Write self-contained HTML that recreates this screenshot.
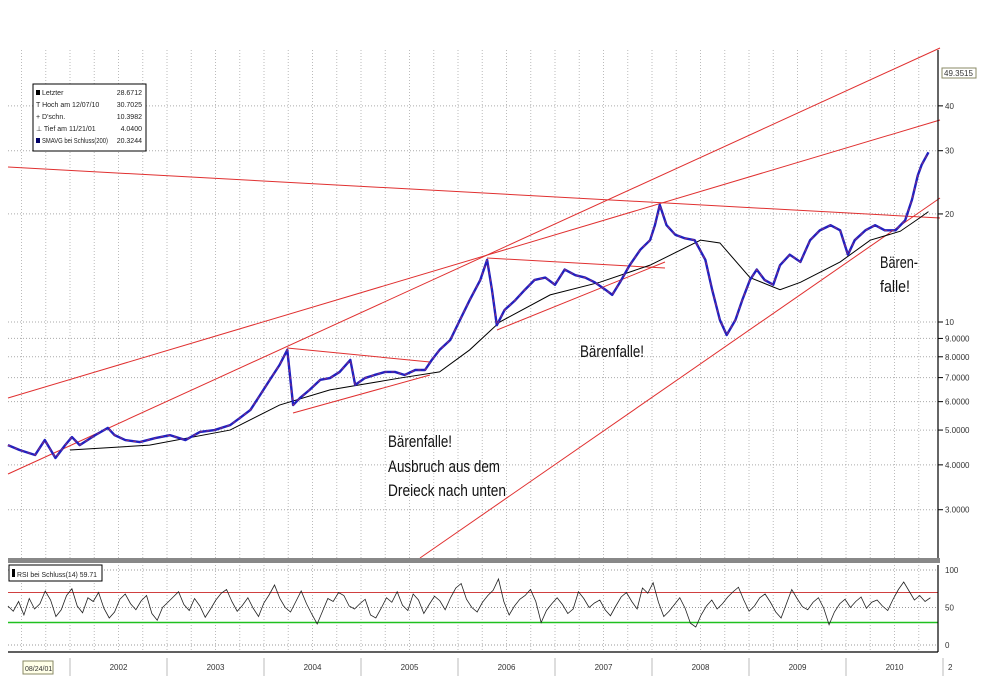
<!DOCTYPE html>
<html><head><meta charset="utf-8"><style>
body{margin:0;background:#fff;}
svg text{font-family:"Liberation Sans Narrow","Liberation Sans",sans-serif;}
</style></head><body>
<svg id="chart" width="999" height="693" viewBox="0 0 999 693" xmlns="http://www.w3.org/2000/svg">
<rect width="999" height="693" fill="#fff"/>
<g id="grid"></g>
<g id="trend"></g>
<g id="series"></g>
<g id="axes"></g>
<g font-size="7" fill="#222">
<rect x="33" y="84" width="113" height="67" fill="#fff" stroke="#000"/>
<rect x="36" y="90" width="4" height="5" fill="#000"/><text x="42" y="95">Letzter</text><text x="142" y="95" text-anchor="end">28.6712</text>
<text x="36" y="107">T Hoch am 12/07/10</text><text x="142" y="107" text-anchor="end">30.7025</text>
<text x="36" y="119">+ D'schn.</text><text x="142" y="119" text-anchor="end">10.3982</text>
<text x="36" y="131">⊥ Tief am 11/21/01</text><text x="142" y="131" text-anchor="end">4.0400</text>
<rect x="36" y="138" width="4" height="5" fill="#000066"/><text x="42" y="143" textLength="66" lengthAdjust="spacingAndGlyphs">SMAVG bei Schluss(200)</text><text x="142" y="143" text-anchor="end">20.3244</text>
</g>
<g font-size="17" fill="#111">
<text x="580" y="357" textLength="64" lengthAdjust="spacingAndGlyphs">Bärenfalle!</text>
<text x="388" y="447" textLength="64" lengthAdjust="spacingAndGlyphs">Bärenfalle!</text>
<text x="388" y="472" textLength="112" lengthAdjust="spacingAndGlyphs">Ausbruch aus dem</text>
<text x="388" y="496" textLength="118" lengthAdjust="spacingAndGlyphs">Dreieck nach unten</text>
<text x="880" y="268" textLength="38" lengthAdjust="spacingAndGlyphs">Bären-</text>
<text x="880" y="292" textLength="30" lengthAdjust="spacingAndGlyphs">falle!</text>
</g>
<g font-size="7" fill="#222">
<rect x="9" y="565" width="93" height="16" fill="#fff" stroke="#000"/>
<rect x="12" y="569" width="3" height="8" fill="#000"/><text x="17" y="577" textLength="80" lengthAdjust="spacingAndGlyphs">RSI bei Schluss(14) 59.71</text>
</g>
</svg>
<script>
const priceYears=[2001.36,2001.48,2001.64,2001.74,2001.85,2001.95,2002.02,2002.10,2002.26,2002.39,2002.46,2002.57,2002.72,2002.88,2003.03,2003.19,2003.34,2003.49,2003.65,2003.75,2003.86,2003.96,2004.06,2004.16,2004.24,2004.30,2004.37,2004.47,2004.58,2004.68,2004.78,2004.89,2004.94,2005.04,2005.14,2005.25,2005.35,2005.45,2005.56,2005.66,2005.73,2005.81,2005.92,2006.02,2006.12,2006.23,2006.30,2006.35,2006.40,2006.48,2006.59,2006.69,2006.79,2006.90,2007.00,2007.10,2007.21,2007.31,2007.41,2007.52,2007.59,2007.67,2007.77,2007.88,2007.98,2008.03,2008.08,2008.15,2008.24,2008.34,2008.44,2008.55,2008.62,2008.70,2008.77,2008.86,2008.93,2009.01,2009.08,2009.16,2009.25,2009.32,2009.42,2009.53,2009.63,2009.73,2009.84,2009.94,2010.02,2010.09,2010.20,2010.30,2010.40,2010.51,2010.61,2010.68,2010.74,2010.78,2010.85];
const priceValues=[4.54,4.40,4.26,4.69,4.18,4.54,4.78,4.54,4.84,5.07,4.84,4.69,4.63,4.75,4.84,4.69,4.94,5.00,5.16,5.40,5.69,6.26,6.90,7.59,8.36,5.87,6.14,6.47,6.90,6.98,7.26,7.84,6.68,6.98,7.12,7.26,7.26,7.12,7.35,7.35,7.84,8.36,8.91,10.13,11.5,13.1,14.9,12.3,9.8,10.8,11.5,12.3,13.1,13.3,12.7,14.0,13.5,13.3,12.9,12.3,11.9,12.9,14.4,15.9,16.9,18.6,21.2,18.6,17.5,17.1,16.9,14.9,12.3,10.13,9.2,10.13,11.5,13.1,14.0,13.1,12.7,14.4,15.4,14.7,16.9,18.0,18.6,18.0,15.4,16.9,18.0,18.6,18.0,18.0,19.2,21.9,25.6,27.4,29.7];
const smaYears=[2002.0,2002.82,2003.65,2004.16,2004.68,2005.4,2005.81,2006.12,2006.43,2006.95,2007.46,2007.98,2008.5,2008.7,2009.01,2009.32,2009.53,2009.94,2010.25,2010.56,2010.76,2010.85];
const smaValues=[4.4,4.54,5.0,5.87,6.47,6.98,7.26,8.36,10.0,11.9,12.9,14.4,16.9,16.6,13.3,12.3,12.9,14.7,16.9,17.9,19.5,20.3];
const rsiValues=[52,45,58,40,62,48,55,72,60,38,47,66,75,52,43,63,58,70,49,36,44,61,68,55,47,59,66,42,33,50,57,64,71,54,46,62,52,37,48,60,69,74,58,45,53,63,49,38,56,67,80,62,50,44,58,72,55,41,28,45,62,58,70,66,52,48,55,61,40,36,49,63,57,71,53,46,68,60,42,54,65,59,47,63,76,82,61,50,44,57,66,73,88,58,40,52,61,66,74,58,30,46,55,63,54,42,48,71,62,50,56,60,47,39,52,64,70,58,48,76,69,83,57,38,45,54,63,49,29,24,40,52,60,48,55,64,71,77,60,45,52,63,68,57,44,36,55,74,62,51,47,57,63,49,27,44,55,61,50,58,64,49,57,60,52,46,61,74,84,72,60,66,58,63];
const rsiStart=2001.36, rsiEnd=2010.87;
const yearLabels=["2002","2003","2004","2005","2006","2007","2008","2009","2010"];
const priceTicks=[3,4,5,6,7,8,9,10,20,30,40];
const priceTickText=["3.0000","4.0000","5.0000","6.0000","7.0000","8.0000","9.0000","10","20","30","40"];
const rsiTicks=[0,50,100];

const NS="http://www.w3.org/2000/svg";
function xS(t){return 70+(t-2002)*97;}
function yP(p){return 322-(Math.log10(p)-1)*359;}
function yR(v){return 645-v*0.75;}
function mk(tag,attrs,parent){const e=document.createElementNS(NS,tag);for(const k in attrs)e.setAttribute(k,attrs[k]);parent.appendChild(e);return e;}
const grid=document.getElementById('grid'),axes=document.getElementById('axes'),trend=document.getElementById('trend'),series=document.getElementById('series');
for(let t=2001.5;t<2011;t+=0.25){const x=xS(t);if(x<8||x>938)continue;
 const l=mk('line',{x1:x,y1:50,x2:x,y2:558,stroke:'#bbb','stroke-dasharray':'1,2'},grid);
 
 
 const l2=mk('line',{x1:x,y1:565,x2:x,y2:650,stroke:'#bbb','stroke-dasharray':'1,2'},grid);
 
 }
priceTicks.forEach((p,i)=>{const y=yP(p);
 const l=mk('line',{x1:8,y1:y,x2:938,y2:y,stroke:'#aaa','stroke-dasharray':'1,2'},grid);
 
 
 const tk=mk('line',{x1:938,y1:y,x2:943,y2:y,stroke:'#000'},axes);
 
 
 const tx=mk('text',{x:945,y:y+3,'font-size':'8',fill:'#333'},axes);tx.textContent=priceTickText[i];
 
 });
const lastLbl=mk('rect',{x:942,y:68,width:34,height:10,fill:'#fff',stroke:'#886'},axes);


const lt=mk('text',{x:944,y:76,'font-size':'8',fill:'#333'},axes);lt.textContent='49.3515';


[[938,50,938,558],[938,565,938,652],[8,652,938,652]].forEach(a=>{const l=mk('line',{x1:a[0],y1:a[1],x2:a[2],y2:a[3],stroke:'#000','stroke-width':1.2},axes);
 
 });
const sep=mk('rect',{x:8,y:558,width:932,height:5,fill:'#888'},axes);


[[8,398,940,120],[8,474,940,48],[8,167,940,218],[420,558,940,198],[287,348,430,362],[293,413,430,375],[487,258,665,268],[497,330,665,262]].forEach(a=>{
 const l=mk('line',{x1:a[0],y1:a[1],x2:a[2],y2:a[3],stroke:'#e03030','stroke-width':1},trend);
 
 });
const sma=mk('polyline',{points:smaYears.map((t,i)=>xS(t)+','+yP(smaValues[i])).join(' '),fill:'none',stroke:'#000','stroke-width':1},series);


const pl=mk('polyline',{points:priceYears.map((t,i)=>xS(t)+','+yP(priceValues[i])).join(' '),fill:'none',stroke:'#2020c0','stroke-width':2.4,'stroke-linejoin':'round'},series);


const pl2=mk('polyline',{points:priceYears.map((t,i)=>xS(t)+','+yP(priceValues[i])).join(' '),fill:'none',stroke:'#b03060','stroke-width':0.7,'stroke-dasharray':'3,4'},series);


rsiTicks.forEach(v=>{const y=yR(v);
 const l=mk('line',{x1:8,y1:y,x2:938,y2:y,stroke:'#999','stroke-dasharray':'1,2'},grid);
 
 
 const tx=mk('text',{x:945,y:y+3,'font-size':'8',fill:'#333'},axes);tx.textContent=String(v);
 
 });
const r70=mk('line',{x1:8,y1:yR(70),x2:938,y2:yR(70),stroke:'#d04040','stroke-width':1},series);


const r30=mk('line',{x1:8,y1:yR(30),x2:938,y2:yR(30),stroke:'#20c020','stroke-width':1.5},series);


const n=rsiValues.length;
const rsi=mk('polyline',{points:rsiValues.map((v,i)=>xS(rsiStart+(rsiEnd-rsiStart)*i/(n-1))+','+yR(v)).join(' '),fill:'none',stroke:'#222','stroke-width':0.8},series);


for(let k=0;k<=9;k++){const x=xS(2002+k);
 const l=mk('line',{x1:x,y1:658,x2:x,y2:676,stroke:'#bbb'},axes);
 
 }
yearLabels.forEach((s,i)=>{const tx=mk('text',{x:xS(2002.5+i),y:670,'font-size':'8','text-anchor':'middle',fill:'#333'},axes);tx.textContent=s;
 
 });
const sb=mk('rect',{x:23,y:661,width:30,height:13,fill:'#ffffe8',stroke:'#886'},axes);


const st=mk('text',{x:25,y:671,'font-size':'7',fill:'#333'},axes);st.textContent='08/24/01';


const e2=mk('text',{x:948,y:670,'font-size':'8',fill:'#333'},axes);e2.textContent='2';


</script>
</body></html>
